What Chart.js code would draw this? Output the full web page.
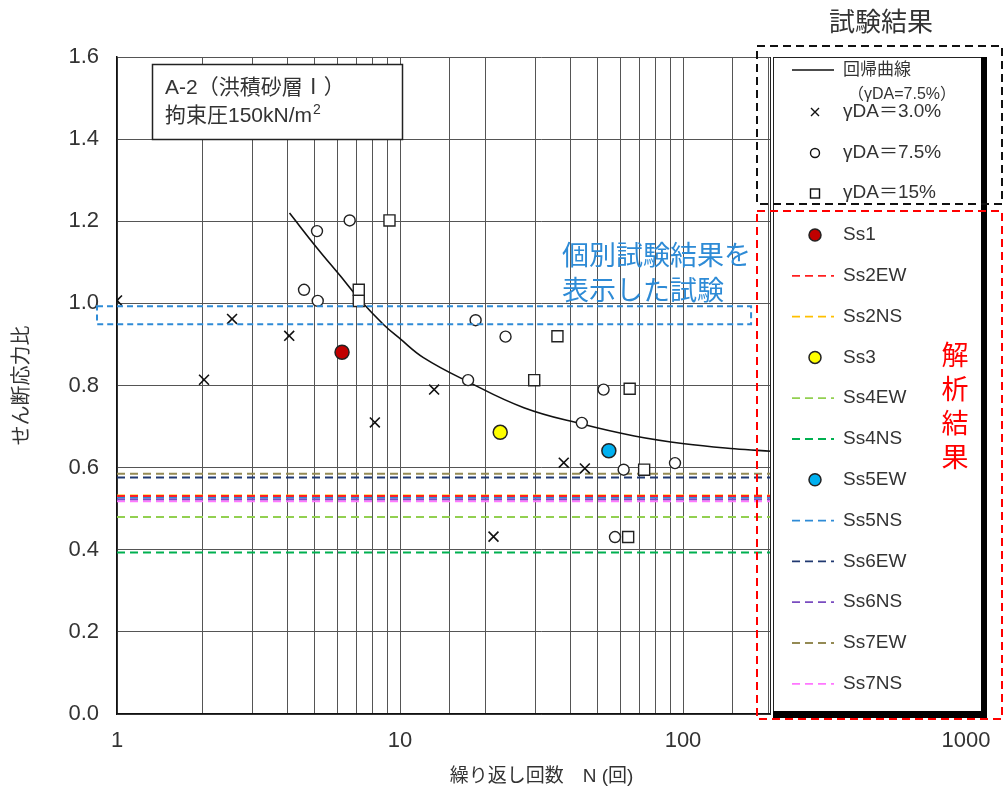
<!DOCTYPE html>
<html>
<head>
<meta charset="utf-8">
<title>せん断応力比 - 繰り返し回数</title>
<script src="https://cdn.jsdelivr.net/npm/chart.js@4/dist/chart.umd.min.js"></script>
<style>
  html, body { margin: 0; padding: 0; background: #fff; }
  canvas { display: block; }
</style>
</head>
<body>
<canvas id="chart" width="1005" height="794"></canvas>
<script>
// ---- data ----
const xTickLabels = [1, 10, 100, 1000];

// 回帰曲線 (γDA=7.5%)
const curveN = [4.07, 5.09, 6.15, 7.15, 8.76, 10, 12.1, 17.3, 27.4, 43.9, 67.3, 101, 152, 205];
const curveR = [1.22, 1.135, 1.067, 1.012, 0.948, 0.914, 0.868, 0.81, 0.746, 0.706, 0.677, 0.658, 0.646, 0.64];

// γDA=3.0%
const crossN = [1, 2.03, 2.55, 4.06, 8.15, 13.2, 21.4, 37.9, 45.0];
const crossR = [1.007, 0.814, 0.962, 0.921, 0.71, 0.79, 0.432, 0.612, 0.598];

// γDA=7.5%
const circleN = [4.58, 5.09, 5.12, 6.64, 17.4, 18.5, 23.6, 43.9, 52.4, 57.5, 61.7, 93.7];
const circleR = [1.033, 1.176, 1.006, 1.202, 0.813, 0.959, 0.919, 0.709, 0.79, 0.431, 0.595, 0.611];

// γDA=15%
const squareN = [7.15, 7.15, 9.18, 29.8, 36.0, 64.0, 64.8, 72.9];
const squareR = [1.033, 1.006, 1.202, 0.813, 0.92, 0.431, 0.792, 0.595];

// 解析結果 (individual results)
const ssPointNames = ["Ss1", "Ss3", "Ss5EW"];
const ssPointN = [6.24, 22.6, 54.7];
const ssPointR = [0.881, 0.686, 0.641];

// 解析結果 (levels)
const ssLineNames = ["Ss2EW", "Ss2NS", "Ss4EW", "Ss4NS", "Ss5NS", "Ss6EW", "Ss6NS", "Ss7EW", "Ss7NS"];
const ssLineR = [0.531, 0.532, 0.48, 0.393, 0.528, 0.576, 0.523, 0.585, 0.518];

const legendOrder = ["Ss1", "Ss2EW", "Ss2NS", "Ss3", "Ss4EW", "Ss4NS", "Ss5EW", "Ss5NS", "Ss6EW", "Ss6NS", "Ss7EW", "Ss7NS"];

// ---- styles ----
const colors = {
  Ss1: "#c00000", Ss3: "#ffff00", Ss5EW: "#00b0f0",
  Ss2EW: "#ff2020", Ss2NS: "#ffc000", Ss4EW: "#92d050", Ss4NS: "#00b050",
  Ss5NS: "#2e8bd6", Ss6EW: "#203870", Ss6NS: "#7a4cc0", Ss7EW: "#948a54", Ss7NS: "#ff77ff"
};
const FONT = '"Liberation Sans", "Noto Sans CJK JP", sans-serif';
const TXT = "#333";

function pts(ns, rs) {
  return ns.map((n, i) => ({ x: n, y: rs[i] }));
}

const datasets = [];
ssPointNames.forEach((name, i) => {
  datasets.push({
    label: name, data: [{ x: ssPointN[i], y: ssPointR[i] }], order: 0,
    pointStyle: "circle", pointRadius: 7, backgroundColor: colors[name],
    borderColor: "#222", borderWidth: 1.5
  });
});
datasets.push({ label: "γDA=3.0%", data: pts(crossN, crossR), order: 1,
  pointStyle: "crossRot", pointRadius: 7, borderColor: "#111", borderWidth: 1.6 });
datasets.push({ label: "γDA=7.5%", data: pts(circleN, circleR), order: 1,
  pointStyle: "circle", pointRadius: 5.5, backgroundColor: "#fff", borderColor: "#222", borderWidth: 1.4 });
datasets.push({ label: "γDA=15%", data: pts(squareN, squareR), order: 1,
  pointStyle: "rect", pointRadius: 7.8, backgroundColor: "#fff", borderColor: "#222", borderWidth: 1.4 });
datasets.push({ label: "回帰曲線", data: pts(curveN, curveR), order: 2, showLine: true,
  pointRadius: 0, borderColor: "#111", borderWidth: 1.6, tension: 0.4 });
ssLineNames.forEach((name, i) => {
  datasets.push({
    label: name, data: [{ x: 1, y: ssLineR[i] }, { x: 1000, y: ssLineR[i] }], order: 3,
    showLine: true, pointRadius: 0, borderColor: colors[name], borderWidth: 2, borderDash: [8, 5]
  });
});

// legend, notes and frames drawn over the plot
const overlay = {
  id: "overlay",
  afterDraw(chart) {
    const ctx = chart.ctx;
    const xs = chart.scales.x, ys = chart.scales.y;
    ctx.save();

    // condition box
    ctx.fillStyle = "#fff";
    ctx.fillRect(152, 64, 250, 75);
    ctx.strokeStyle = "#222"; ctx.lineWidth = 1.5; ctx.setLineDash([]);
    ctx.strokeRect(152.5, 64.5, 250, 75);
    ctx.fillStyle = TXT; ctx.textBaseline = "middle"; ctx.textAlign = "left";
    ctx.font = "21px " + FONT;
    ctx.fillText("A-2（洪積砂層Ⅰ）", 165, 88);
    const l2 = "拘束圧150kN/m";
    ctx.fillText(l2, 165, 116);
    const w2 = ctx.measureText(l2).width;
    ctx.font = "14px " + FONT;
    ctx.fillText("2", 165 + w2 + 1, 110);

    // individual result frame
    const bTop = ys.getPixelForValue(0.993), bBot = ys.getPixelForValue(0.949);
    const bL = chart.chartArea.left - 20, bR = xs.getPixelForValue(174);
    ctx.strokeStyle = "#2e8bd6"; ctx.lineWidth = 2; ctx.setLineDash([6, 4]);
    ctx.strokeRect(bL, bTop, bR - bL, bBot - bTop);
    ctx.setLineDash([]);
    ctx.fillStyle = "#2e8bd6"; ctx.font = "27px " + FONT;
    ctx.fillText("個別試験結果を", 562, 258);
    ctx.fillText("表示した試験", 562, 293);

    // legend box
    ctx.fillStyle = "#fff";
    ctx.fillRect(770, 57, 216, 660);
    ctx.strokeStyle = "#222"; ctx.lineWidth = 1;
    ctx.beginPath();
    ctx.moveTo(770.5, 57); ctx.lineTo(770.5, 715);
    ctx.moveTo(773.5, 57); ctx.lineTo(773.5, 715);
    ctx.moveTo(773, 57.5); ctx.lineTo(986, 57.5);
    ctx.stroke();
    ctx.fillStyle = "#000";
    ctx.fillRect(981, 57, 6, 661);
    ctx.fillRect(773, 711, 214, 7);

    const sx = 815, lx0 = 792, lx1 = 834, tx = 843;
    ctx.textAlign = "left"; ctx.textBaseline = "middle";
    // regression
    ctx.strokeStyle = "#111"; ctx.lineWidth = 1.6;
    ctx.beginPath(); ctx.moveTo(lx0, 70); ctx.lineTo(lx1, 70); ctx.stroke();
    ctx.fillStyle = TXT; ctx.font = "17px " + FONT;
    ctx.fillText("回帰曲線", tx, 70);
    ctx.font = "16px " + FONT;
    ctx.fillText("（γDA=7.5%）", 848, 95);
    // test markers
    ctx.font = "19px " + FONT;
    ctx.lineWidth = 1.4; ctx.strokeStyle = "#111";
    ctx.beginPath();
    ctx.moveTo(sx - 4, 108); ctx.lineTo(sx + 4, 116);
    ctx.moveTo(sx + 4, 108); ctx.lineTo(sx - 4, 116);
    ctx.stroke();
    ctx.fillText("γDA＝3.0%", tx, 112);
    ctx.beginPath(); ctx.arc(sx, 153, 4.5, 0, Math.PI * 2); ctx.stroke();
    ctx.fillText("γDA＝7.5%", tx, 153);
    ctx.strokeRect(sx - 4.5, 189, 9, 9);
    ctx.fillText("γDA＝15%", tx, 193);

    // analysis entries
    legendOrder.forEach((name, i) => {
      const yy = 235 + i * 40.8;
      if (ssPointNames.includes(name)) {
        ctx.setLineDash([]);
        ctx.fillStyle = colors[name]; ctx.strokeStyle = "#222"; ctx.lineWidth = 1.5;
        ctx.beginPath(); ctx.arc(sx, yy, 6, 0, Math.PI * 2); ctx.fill(); ctx.stroke();
      } else {
        ctx.strokeStyle = colors[name]; ctx.lineWidth = 1.8; ctx.setLineDash([8, 5]);
        ctx.beginPath(); ctx.moveTo(lx0, yy); ctx.lineTo(lx1, yy); ctx.stroke();
        ctx.setLineDash([]);
      }
      ctx.fillStyle = TXT; ctx.font = "19px " + FONT;
      ctx.fillText(name, tx, yy);
    });

    // group frames
    ctx.lineWidth = 2;
    ctx.setLineDash([8, 5]);
    ctx.strokeStyle = "#111";
    ctx.strokeRect(757, 46, 245, 158);
    ctx.strokeStyle = "#ff0000";
    ctx.strokeRect(757, 211, 245, 508);
    ctx.setLineDash([]);

    ctx.textAlign = "center";
    ctx.fillStyle = TXT; ctx.font = "26px " + FONT;
    ctx.fillText("試験結果", 881, 24);
    ctx.fillStyle = "#ff0000"; ctx.font = "27px " + FONT;
    ["解", "析", "結", "果"].forEach((c, i) => ctx.fillText(c, 955, 358 + i * 34));

    ctx.restore();
  }
};

new Chart(document.getElementById("chart"), {
  type: "scatter",
  data: { datasets: datasets },
  options: {
    responsive: false,
    animation: false,
    layout: { padding: { left: 0, right: 39, top: 57, bottom: 0 } },
    plugins: { legend: { display: false }, tooltip: { enabled: false } },
    scales: {
      x: {
        type: "logarithmic", min: 1, max: 1000,
        afterFit: (s) => { s.height = 80; },
        ticks: {
          autoSkip: false, maxRotation: 0, padding: 14, color: TXT,
          font: { size: 22, family: FONT },
          callback: (v) => (xTickLabels.includes(v) ? String(v) : "")
        },
        grid: { color: "#555", lineWidth: 1, drawTicks: false },
        border: { color: "#111", width: 1.5 },
        title: { display: true, text: "繰り返し回数　N (回)", color: TXT,
          font: { size: 19, family: FONT }, padding: { top: 0, bottom: 6 } }
      },
      y: {
        min: 0, max: 1.6,
        afterFit: (s) => { s.width = 117; },
        ticks: { stepSize: 0.2, padding: 18, color: TXT, font: { size: 22, family: FONT },
          callback: (v) => v.toFixed(1) },
        grid: { color: "#555", lineWidth: 1, drawTicks: false },
        border: { color: "#111", width: 1.5 },
        title: { display: true, text: "せん断応力比", color: TXT,
          font: { size: 20, family: FONT }, padding: { top: 10, bottom: 4 } }
      }
    }
  },
  plugins: [overlay]
});
</script>
</body>
</html>
